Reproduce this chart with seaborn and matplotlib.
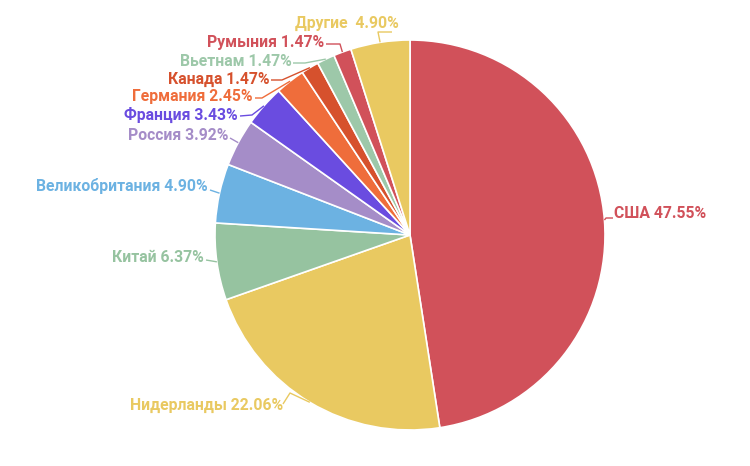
import matplotlib
matplotlib.use("Agg")
import matplotlib.pyplot as plt
import seaborn as sns
import numpy as np

# ---- data ----
countries = ["США", "Нидерланды", "Китай", "Великобритания", "Россия", "Франция",
             "Германия", "Канада", "Вьетнам", "Румыния", "Другие"]
shares = [47.55, 22.06, 6.37, 4.90, 3.92, 3.43, 2.45, 1.47, 1.47, 1.47, 4.90]
colors = ["#d1515a", "#e9c961", "#96c3a0", "#6cb2e2", "#a58dc8", "#6a4ce0",
          "#ef6d3b", "#d6512d", "#9dc8a9", "#d1515a", "#e9c961"]
label_texts = ["США 47.55%", "Нидерланды 22.06%", "Китай 6.37%", "Великобритания 4.90%",
               "Россия 3.92%", "Франция 3.43%", "Германия 2.45%", "Канада 1.47%",
               "Вьетнам 1.47%", "Румыния 1.47%", "Другие  4.90%"]

# ---- layout (pixel coords from top-left) ----
W, H = 750, 466
CX, CY, R = 410, 235, 195
# text anchor (x, y, ha) and elbow point of leader line
text_pos = [(614, 214, "left"), (283, 405, "right"), (204, 257, "right"),
            (208, 186, "right"), (228, 135, "right"), (238, 115, "right"),
            (253, 97, "right"), (269, 79, "right"), (292, 62, "right"),
            (324, 43, "right"), (399, 23, "right")]
elbows = [(606, 218), (290, 393), (206, 260), (210, 190), (230, 138), (252, 115),
          (262, 98), (282, 80), (305, 63), (340, 44), (378, 32)]
line_ends = [(613, 218), (283, 404), (206, 260), (210, 190), (230, 138), (240, 116),
             (255, 98), (271, 80), (293, 63), (326, 44), (392, 32)]

sns.set_theme(style="white")
plt.rcParams["font.family"] = ["Roboto", "DejaVu Sans"]

fig = plt.figure(figsize=(W / 100, H / 100), dpi=100)
ax = fig.add_axes([0, 0, 1, 1])

ax.pie(shares, colors=colors, startangle=90, counterclock=False,
       center=(CX, H - CY), radius=R,
       wedgeprops=dict(edgecolor="white", linewidth=1.2))
ax.set_aspect("auto")
ax.set_xlim(0, W)
ax.set_ylim(0, H)
ax.axis("off")

cum = np.cumsum([0] + shares[:-1])
total = sum(shares)
for i, (txt, col) in enumerate(zip(label_texts, colors)):
    mid = (cum[i] + shares[i] / 2) / total * 2 * np.pi
    ex = CX + R * np.sin(mid)
    ey = CY - R * np.cos(mid)
    bx, by = elbows[i]
    lx, ly = line_ends[i]
    ax.plot([ex, bx, lx], [H - ey, H - by, H - ly], color=col, lw=1.0,
            solid_capstyle="butt", zorder=3)
    tx, ty, ha = text_pos[i]
    ax.text(tx, H - ty, txt, color=col, fontsize=11.3, fontweight="bold",
            ha=ha, va="center")

fig.savefig("out.png", dpi=100, facecolor="white")
